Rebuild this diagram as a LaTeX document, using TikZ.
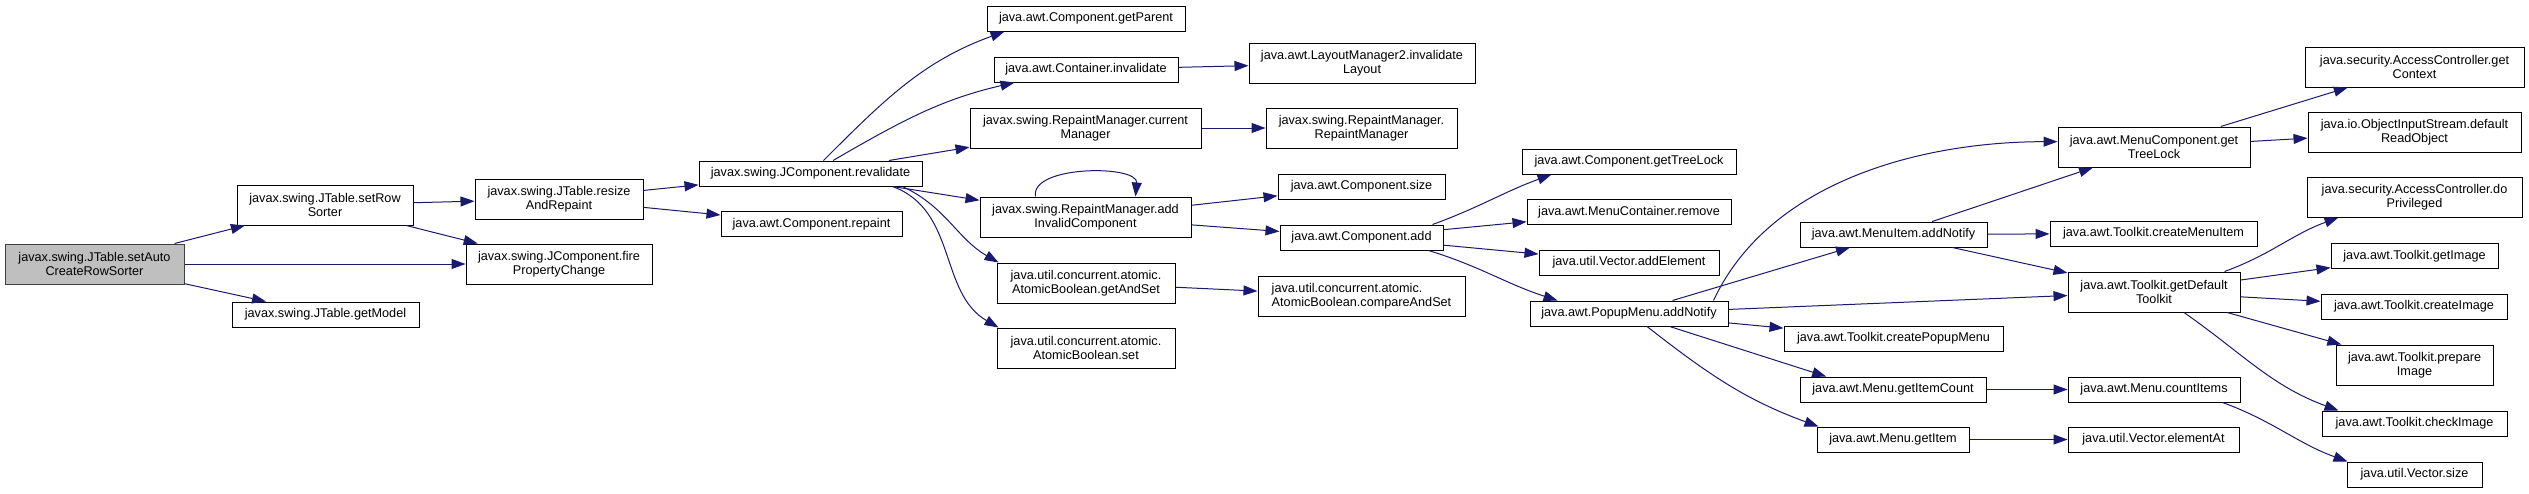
\documentclass[tikz,border=0pt]{standalone}
\usepackage{fontspec}
\setmainfont{Liberation Sans}
\usepackage{tikz}
\usetikzlibrary{arrows.meta}
\definecolor{edgeblue}{HTML}{191970}
\definecolor{rootgray}{HTML}{BFBFBF}

\begin{document}
\begin{tikzpicture}[x=0.75pt,y=0.75pt,->,>={Triangle[length=10.5pt,width=7.5pt]},
  every edge/.style={draw=edgeblue,line width=0.75pt},
  call node/.style={rectangle,draw=black,fill=white,line width=0.75pt,inner sep=0pt,
    minimum height=18.75pt,align=center,font=\fontsize{9.5}{10.5}\selectfont},
  root node/.style={call node,draw=black!75,fill=rootgray},
  tall/.style={minimum height=30pt},
  wd/.style={minimum width=#1*0.75pt}]

  \useasboundingbox (0,0) rectangle (2529,-493);

  \node[root node,wd=179,tall] (1) at (94.5,-264) {javax.swing.JTable.setAuto\\CreateRowSorter};
  \node[call node,wd=176,tall] (2) at (325,-205) {javax.swing.JTable.setRow\\Sorter};
  \node[call node,wd=186,tall] (3) at (559,-264) {javax.swing.JComponent.fire\\PropertyChange};
  \node[call node,wd=187] (4) at (325.5,-314.5) {javax.swing.JTable.getModel};
  \node[call node,wd=168,tall] (5) at (559,-199) {javax.swing.JTable.resize\\AndRepaint};
  \node[call node,wd=223] (6) at (810.5,-173.5) {javax.swing.JComponent.revalidate};
  \node[call node,wd=181] (7) at (811.5,-224) {java.awt.Component.repaint};
  \node[call node,wd=198] (8) at (1086,-18.5) {java.awt.Component.getParent};
  \node[call node,wd=184] (9) at (1086,-69.5) {java.awt.Container.invalidate};
  \node[call node,wd=231,tall] (10) at (1085.5,-128) {javax.swing.RepaintManager.current\\Manager};
  \node[call node,wd=211,tall] (11) at (1085.5,-217) {javax.swing.RepaintManager.add\\InvalidComponent};
  \node[call node,wd=178,tall] (12) at (1086,-283) {java.util.concurrent.atomic.\\AtomicBoolean.getAndSet};
  \node[call node,wd=178,tall] (13) at (1086,-348) {java.util.concurrent.atomic.\\AtomicBoolean.set};
  \node[call node,wd=226,tall] (14) at (1362,-63) {java.awt.LayoutManager2.invalidate\\Layout};
  \node[call node,wd=191,tall] (15) at (1361.5,-128) {javax.swing.RepaintManager.\\RepaintManager};
  \node[call node,wd=167] (16) at (1361.5,-186.5) {java.awt.Component.size};
  \node[call node,wd=163] (17) at (1361.5,-237.5) {java.awt.Component.add};
  \node[call node,wd=207,tall,align=left] (18) at (1361.5,-296) {java.util.concurrent.atomic.\\AtomicBoolean.compareAndSet};
  \node[call node,wd=214] (19) at (1629,-161.5) {java.awt.Component.getTreeLock};
  \node[call node,wd=204] (20) at (1629,-212) {java.awt.MenuContainer.remove};
  \node[call node,wd=180] (21) at (1629,-262.5) {java.util.Vector.addElement};
  \node[call node,wd=198] (22) at (1629,-313.5) {java.awt.PopupMenu.addNotify};
  \node[call node,wd=187] (23) at (1893.5,-234.5) {java.awt.MenuItem.addNotify};
  \node[call node,wd=219] (24) at (1893.5,-338.5) {java.awt.Toolkit.createPopupMenu};
  \node[call node,wd=186] (25) at (1893,-389.5) {java.awt.Menu.getItemCount};
  \node[call node,wd=152] (26) at (1893,-439.5) {java.awt.Menu.getItem};
  \node[call node,wd=192,tall] (27) at (2154,-147) {java.awt.MenuComponent.get\\TreeLock};
  \node[call node,wd=207] (28) at (2153.5,-233.5) {java.awt.Toolkit.createMenuItem};
  \node[call node,wd=172,tall] (29) at (2154,-292) {java.awt.Toolkit.getDefault\\Toolkit};
  \node[call node,wd=172] (30) at (2154,-389.5) {java.awt.Menu.countItems};
  \node[call node,wd=171] (31) at (2153.5,-439.5) {java.util.Vector.elementAt};
  \node[call node,wd=219,tall] (32) at (2414.5,-67) {java.security.AccessController.get\\Context};
  \node[call node,wd=213,tall] (33) at (2414.5,-132) {java.io.ObjectInputStream.default\\ReadObject};
  \node[call node,wd=215,tall] (34) at (2414.5,-197) {java.security.AccessController.do\\Privileged};
  \node[call node,wd=167] (35) at (2414.5,-256) {java.awt.Toolkit.getImage};
  \node[call node,wd=186] (36) at (2414,-306.5) {java.awt.Toolkit.createImage};
  \node[call node,wd=157,tall] (37) at (2414.5,-365) {java.awt.Toolkit.prepare\\Image};
  \node[call node,wd=185] (38) at (2414.5,-423.5) {java.awt.Toolkit.checkImage};
  \node[call node,wd=135] (39) at (2414.5,-474.5) {java.util.Vector.size};

  \path
    (1) edge (2)
        edge (3)
        edge (4)
    (2) edge (5)
        edge (3)
    (5) edge (6)
        edge (7)
    (6) edge [out=45,in=200] ([xshift=13.5pt]8.south west)
        edge [out=30,in=193] ([xshift=15.75pt]9.south west)
        edge (10)
        edge (11)
    ([xshift=-15pt]6.south east) edge [out=-25,in=150] ([xshift=1.5pt]12.north west)
    ([xshift=-22.5pt]6.south east) edge [out=-20,in=150] ([xshift=1.5pt]13.north west)
    (9) edge (14)
    (10) edge (15)
    ([xshift=-37.5pt]11.north) edge [out=100,in=85,looseness=0.82] ([xshift=37.5pt]11.north)
    (11) edge (16)
         edge (17)
    (12) edge (18)
    ([xshift=-8.25pt]17.north east) edge [out=20,in=200] ([xshift=22.5pt]19.south west)
    (17) edge (20)
         edge (21)
    ([xshift=-11.25pt]17.south east) edge [out=-17,in=162] ([xshift=21pt]22.north west)
    ([xshift=-11.25pt]22.north east) edge [out=65,in=180,looseness=0.9] ([yshift=4pt]27.west)
    (22) edge (23)
         edge (29)
         edge (24)
         edge ([xshift=20pt]25.north west)
    ([xshift=13.5pt]22.south) edge [out=-38,in=160] ([xshift=1.5pt]26.north west)
    (23) edge (27)
         edge (28)
         edge (29)
    (27) edge (32)
         edge (33)
    ([xshift=-12pt]29.north east) edge [out=20,in=200] ([xshift=24pt]34.south west)
    (29) edge (35)
         edge (36)
         edge (37)
    ([xshift=22.5pt]29.south) edge [out=-35,in=160] ([xshift=12.75pt]38.north west)
    (25) edge (30)
    (26) edge (31)
    ([xshift=-13.5pt]30.south east) edge [out=-20,in=160] ([xshift=0.75pt]39.north west);
\end{tikzpicture}
\end{document}
